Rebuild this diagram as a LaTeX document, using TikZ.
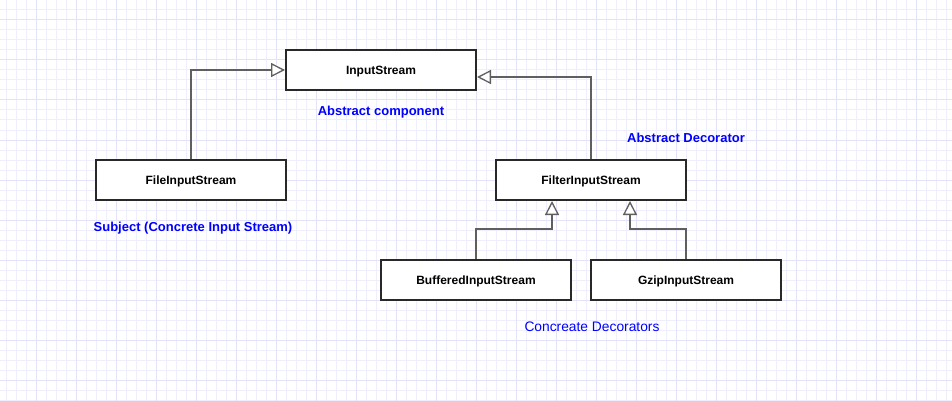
\documentclass[tikz,border=0pt]{standalone}
\usepackage{fontspec}
\setmainfont{Liberation Sans}
\usetikzlibrary{arrows.meta}

\definecolor{gridminor}{RGB}{238,238,252}
\definecolor{gridmajor}{RGB}{226,226,250}
\definecolor{boxline}{RGB}{40,40,40}
\definecolor{linkline}{RGB}{95,95,95}

\tikzset{
  classbox/.style={draw=boxline, line width=2pt, fill=white, minimum width=190pt,
    minimum height=40pt, inner sep=0pt, text depth=0pt,
    font=\fontsize{12}{14}\selectfont\bfseries},
  note/.style={text=blue, font=\fontsize{13}{15}\selectfont\bfseries},
  gen/.style={draw=linkline, line width=1.3pt, -{Triangle[fill=white, length=14pt, width=14pt]}},
}

\begin{document}
\begin{tikzpicture}[x=1pt, y=-1pt]
\useasboundingbox (0,0) rectangle (952,401);
\fill[white] (0,0) rectangle (952,401);
%\draw[step=1cm,gray,very thin] (0,0) grid (6,6);
\foreach \x in {6,16,...,946} \draw[gridminor, line width=1pt] (\x,0) -- (\x,401);
\foreach \y in {0,10,...,400} \draw[gridminor, line width=1pt] (0,\y) -- (952,\y);
\foreach \x in {36,76,...,916} \draw[gridmajor, line width=1pt] (\x,0) -- (\x,401);
\foreach \y in {20,60,...,380} \draw[gridmajor, line width=1pt] (0,\y) -- (952,\y);

\node[classbox] (input) at (381,70) {InputStream};
\node[classbox] (file) at (191,180) {FileInputStream};
\node[classbox] (filter) at (591,180) {FilterInputStream};
\node[classbox] (buffered) at (476,280) {BufferedInputStream};
\node[classbox] (gzip) at (686,280) {GzipInputStream};

\node[note] (abscomp) at (381,112) {Abstract component};
\node[note] (subject) at (193,228) {Subject (Concrete Input Stream)};
\node[note] (absdeco) at (686,138) {Abstract Decorator};
\node[note, font=\fontsize{13.8}{15}\selectfont] (concdeco) at (592,327) {Concreate Decorators};

\draw[gen] (file.north) |- (input.west);
\draw[gen] (filter.north) |- ([yshift=-7pt]input.east);
\draw[gen] (buffered.north) -- ++(0,-30) -| ([xshift=-39pt]filter.south);
\draw[gen] (gzip.north) -- ++(0,-30) -| ([xshift=39pt]filter.south);
\end{tikzpicture}
\end{document}
